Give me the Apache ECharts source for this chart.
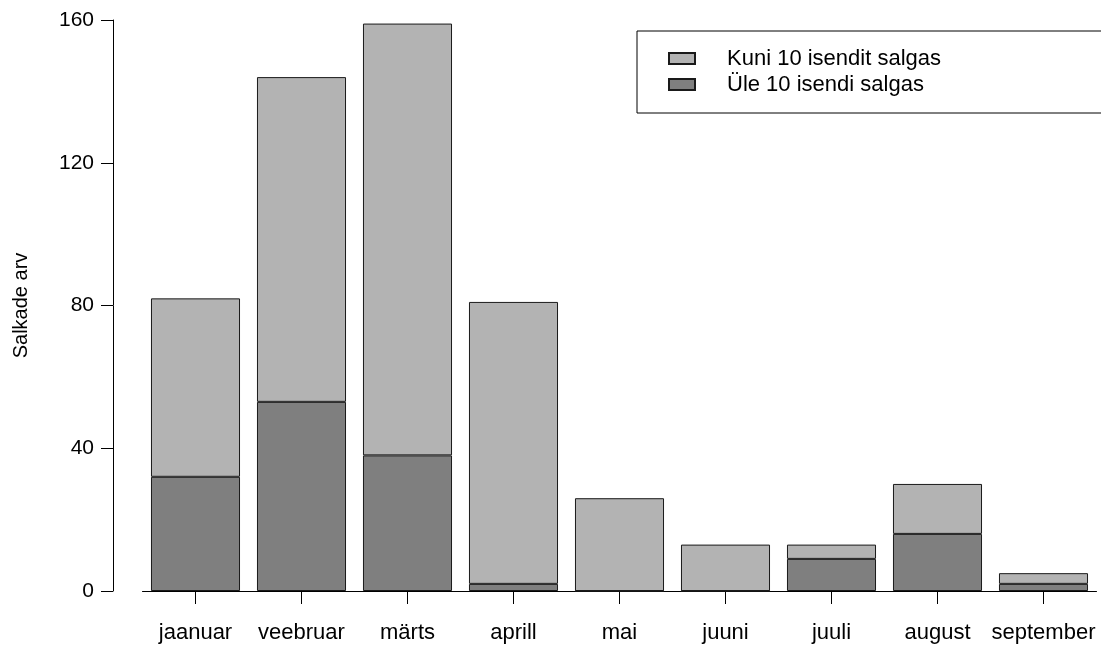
<!DOCTYPE html>
<html>
<head>
<meta charset="utf-8">
<script src="https://cdn.jsdelivr.net/npm/echarts@6/dist/echarts.min.js"></script>
<style>html,body{margin:0;padding:0;background:#fff}#c{width:1101px;height:645px}</style>
</head>
<body>
<div id="c"></div>
<script>
const months = ['jaanuar','veebruar','märts','aprill','mai','juuni','juuli','august','september'];
const over10 = [32, 53, 38, 2, 0, 0, 9, 16, 2];
const upTo10 = [50, 91, 121, 79, 26, 13, 4, 14, 3];
const yTicks = [0, 40, 80, 120, 160];
const seriesNames = ['Kuni 10 isendit salgas', 'Üle 10 isendi salgas'];

const FONT = 'Liberation Sans, Arial, Helvetica, sans-serif';
const chart = echarts.init(document.getElementById('c'), null, {renderer: 'canvas'});
chart.setOption({
  animation: false,
  backgroundColor: '#fff',
  textStyle: {fontFamily: FONT},
  grid: {left: 142.5, right: 4.5, top: 20, bottom: 54, containLabel: false},
  legend: {
    data: [seriesNames[0], seriesNames[1]],
    orient: 'vertical',
    left: 637, top: 31,
    padding: [16.5, 300, 17.5, 31],
    itemWidth: 26, itemHeight: 11,
    itemGap: 4,
    borderColor: '#000', borderWidth: 1,
    icon: 'rect',
    textStyle: {fontSize: 22, color: '#000', fontFamily: FONT, lineHeight: 22, padding: [0, 0, 0, 27]}
  },
  xAxis: {
    type: 'category',
    data: months,
    axisLine: {show: true, lineStyle: {color: '#000', width: 1}},
    axisTick: {show: true, alignWithLabel: true, length: 13, lineStyle: {color: '#000'}},
    axisLabel: {fontSize: 22, color: '#000', margin: 31, fontFamily: FONT, interval: 0},
    splitLine: {show: false}
  },
  yAxis: {
    type: 'value',
    min: yTicks[0], max: yTicks[yTicks.length - 1], interval: 40,
    offset: 29.5,
    name: 'Salkade arv',
    nameLocation: 'middle',
    nameGap: 82,
    nameTextStyle: {fontSize: 20, color: '#000', fontFamily: FONT},
    axisLine: {show: true, lineStyle: {color: '#000', width: 1}},
    axisTick: {show: true, length: 12, lineStyle: {color: '#000'}},
    axisLabel: {fontSize: 21, color: '#000', margin: 19, fontFamily: FONT},
    splitLine: {show: false}
  },
  series: [
    {
      name: seriesNames[1], type: 'bar', stack: 'tot', data: over10,
      barCategoryGap: '16%',
      itemStyle: {color: '#7f7f7f', borderColor: '#1a1a1a', borderWidth: 1}
    },
    {
      name: seriesNames[0], type: 'bar', stack: 'tot', data: upTo10,
      barCategoryGap: '16%',
      itemStyle: {color: '#b3b3b3', borderColor: '#1a1a1a', borderWidth: 1}
    }
  ]
});
</script>
</body>
</html>
